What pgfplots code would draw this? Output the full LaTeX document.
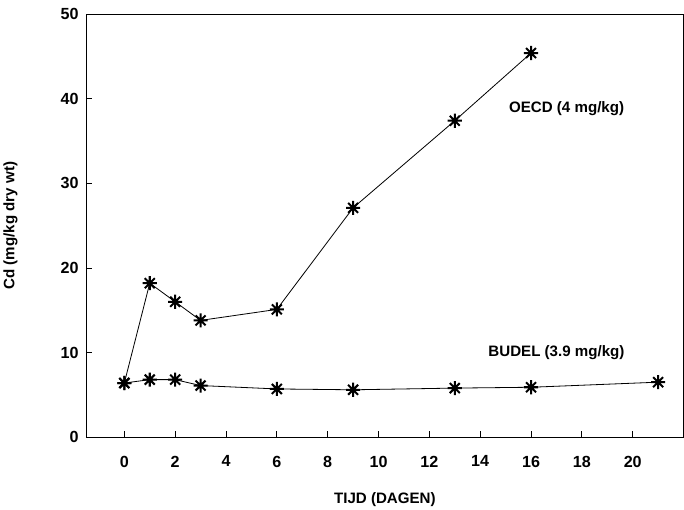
\documentclass[border=0pt]{standalone}
\usepackage{fontspec}
\setmainfont{Liberation Sans}
\usepackage{pgfplots}
\pgfplotsset{compat=1.18}
\pgfdeclareplotmark{star8}{%
  \pgfpathmoveto{\pgfqpoint{-\pgfplotmarksize}{0pt}}\pgfpathlineto{\pgfqpoint{\pgfplotmarksize}{0pt}}%
  \pgfpathmoveto{\pgfqpoint{0pt}{-\pgfplotmarksize}}\pgfpathlineto{\pgfqpoint{0pt}{\pgfplotmarksize}}%
  \pgfpathmoveto{\pgfqpoint{-0.707\pgfplotmarksize}{-0.707\pgfplotmarksize}}\pgfpathlineto{\pgfqpoint{0.707\pgfplotmarksize}{0.707\pgfplotmarksize}}%
  \pgfpathmoveto{\pgfqpoint{-0.707\pgfplotmarksize}{0.707\pgfplotmarksize}}\pgfpathlineto{\pgfqpoint{0.707\pgfplotmarksize}{-0.707\pgfplotmarksize}}%
  \pgfusepathqstroke}
\begin{document}
\begin{tikzpicture}
\begin{axis}[
  scale only axis,
  width=593pt, height=420pt,
  xmin=-1.5, xmax=22, ymin=0, ymax=50,
  xtick={0,2,...,20}, ytick={0,10,...,50},
  tick align=inside,
  major tick length=6pt,
  xtick pos=bottom, ytick pos=left,
  axis line style={line width=0.9pt},
  tick style={line width=0.8pt,black},
  /pgf/number format/assume math mode=true,
  tick label style={font=\fontsize{16}{19}\selectfont\bfseries},
  xticklabel style={yshift=-15pt},
  yticklabel style={xshift=-4pt},
  label style={font=\fontsize{15}{18}\selectfont\bfseries},
  xlabel={TIJD (DAGEN)},
  ylabel={Cd (mg/kg dry wt)},
  xlabel style={yshift=-18pt},
  ylabel style={yshift=36pt},
]
\addplot[black, line width=0.8pt, mark=star8, mark size=7pt, mark options={line width=2pt}]
  coordinates {(0,6.4) (1,18.2) (2,16.0) (3,13.8) (6,15.1) (9,27.1) (13,37.4) (16,45.4)};
\addplot[black, line width=0.8pt, mark=star8, mark size=7pt, mark options={line width=2pt}]
  coordinates {(0,6.4) (1,6.8) (2,6.8) (3,6.1) (6,5.7) (9,5.6) (13,5.8) (16,5.9) (21,6.5)};
\node[font=\fontsize{15}{18}\selectfont\bfseries] at (axis cs:17.4,38.8) {OECD (4 mg/kg)};
\node[font=\fontsize{15}{18}\selectfont\bfseries] at (axis cs:17.0,10.0) {BUDEL (3.9 mg/kg)};
\end{axis}
\path (current axis.north) ++(0,14pt);
\end{tikzpicture}
\end{document}
